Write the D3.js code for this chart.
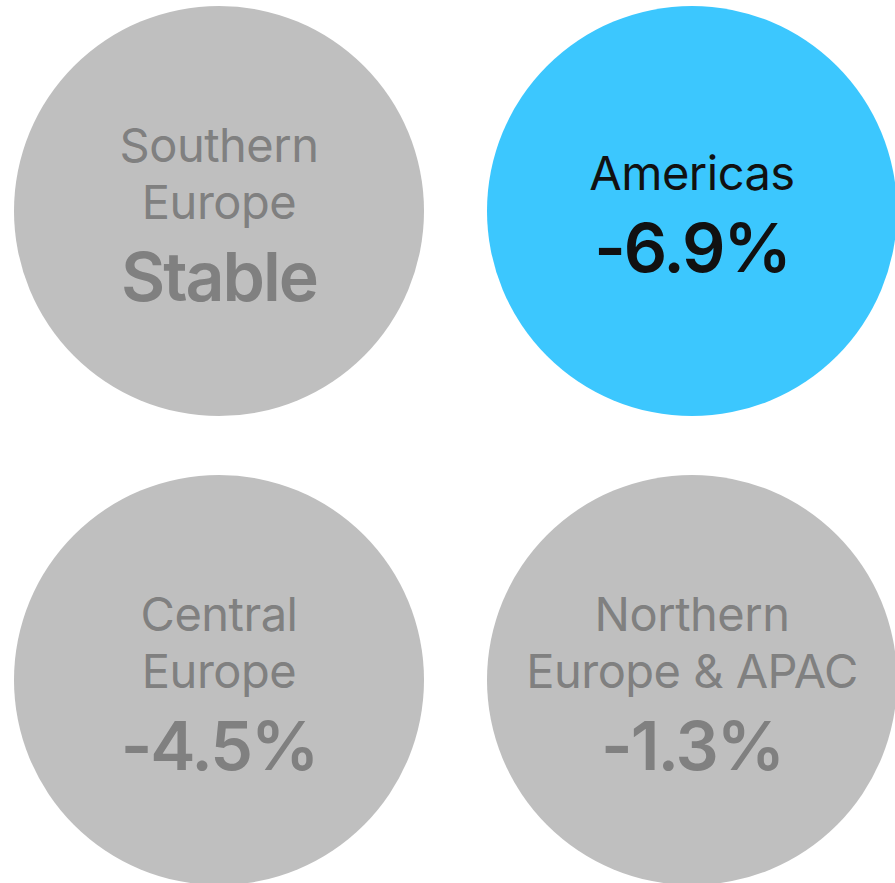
<!DOCTYPE html>
<html>
<head>
<meta charset="utf-8">
<script src="https://cdn.jsdelivr.net/npm/d3@7"></script>
<style>
  html, body { margin: 0; padding: 0; background: #fff; }
  svg { display: block; }
</style>
</head>
<body>
<svg id="area" width="895" height="883"></svg>
<script>
// data
const regions = [['Southern', 'Europe'], ['Americas'], ['Central', 'Europe'], ['Northern', 'Europe & APAC']];
const values = ['Stable', '-6.9%', '-4.5%', '-1.3%'];
const highlighted = [false, true, false, false];
const cols = [0, 1, 0, 1];
const rows = [0, 0, 1, 1];

const svg = d3.select('#area');

const x = d3.scaleLinear([0, 1], [219, 692]);
const y = d3.scaleLinear([0, 1], [211, 680]);
const fill = d3.scaleOrdinal([false, true], ['#bfbfbf', '#3cc7fe']);
const ink = d3.scaleOrdinal([false, true], ['#808080', '#111111']);

const items = values.map((v, i) => ({
  label: regions[i], value: v, hi: highlighted[i], c: cols[i], r: rows[i],
}));

const font = 'Inter, "Noto Sans", sans-serif';
const lineH = 57;

const g = svg.append('g')
  .selectAll('g')
  .data(items)
  .join('g')
  .attr('transform', (d) => `translate(${x(d.c)},${y(d.r)})`);

// circle
g.append('circle')
  .attr('r', 205)
  .attr('fill', (d) => fill(d.hi));

// label lines + value
g.each(function (d) {
  const n = d.label.length;
  const first = -(n - 1) * lineH / 2 - 21;
  d3.select(this).selectAll('text.label')
    .data(d.label)
    .join('text')
    .attr('class', 'label')
    .attr('text-anchor', 'middle')
    .attr('x', 0)
    .attr('y', (t, i) => first + i * lineH)
    .attr('fill', ink(d.hi))
    .style('font-family', font)
    .style('font-size', '47px')
    .style('font-weight', 400)
    .style('letter-spacing', '-0.5px')
    .text((t) => t);

  d3.select(this).append('text')
    .attr('text-anchor', 'middle')
    .attr('x', 0)
    .attr('y', first + (n - 1) * lineH + 82)
    .attr('fill', ink(d.hi))
    .style('font-family', font)
    .style('font-size', '68px')
    .style('font-weight', 600)
    .style('letter-spacing', '-2px')
    .text(d.value);
});
</script>
</body>
</html>
